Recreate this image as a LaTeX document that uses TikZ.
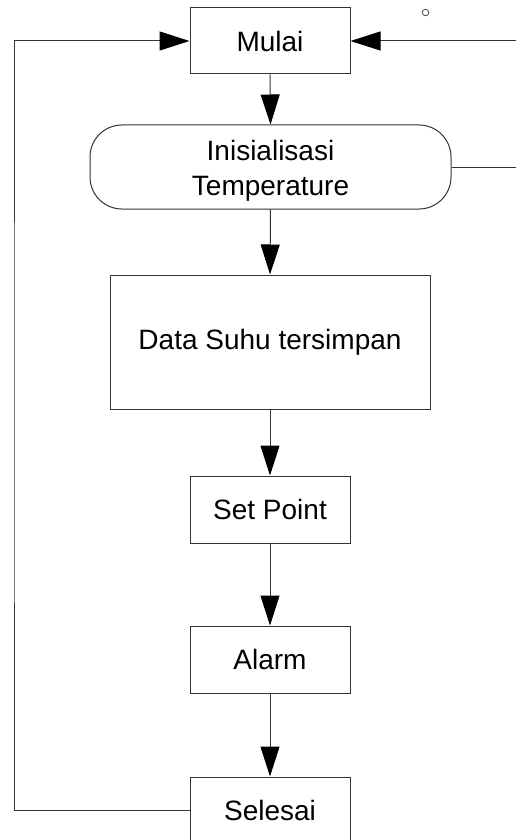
\documentclass[tikz,border=0pt]{standalone}
\usepackage{fontspec}
\setmainfont{Liberation Sans}
\usetikzlibrary{arrows.meta}
\begin{document}
\begin{tikzpicture}[x=1pt,y=-1pt,
  box/.style={draw=black!80,line width=1pt,minimum width=160pt,minimum height=67pt,inner sep=0pt,align=center,font=\fontsize{28}{35}\selectfont},
  arr/.style={draw=black!80,line width=1pt,-{Triangle[length=30pt,width=19pt,fill=black,color=black]}},
  ln/.style={draw=black!80,line width=1pt}]
\useasboundingbox (0,0) rectangle (516,840);
\clip (0,0) rectangle (516,840);
\node[box,minimum height=66pt] (mulai) at (270,41) {Mulai};
\node[box,minimum width=361pt,minimum height=84pt,rounded corners=32pt] (init) at (270.5,167) {};
\node[font=\fontsize{28}{35}\selectfont,align=center,inner sep=0pt] (inittext) at (270.5,170.5) {Inisialisasi\\Temperature};
\node[box,minimum width=320pt,minimum height=134pt] (data) at (270,342) {Data Suhu tersimpan};
\node[box] (sp) at (270,509.5) {Set Point};
\node[box] (alarm) at (270,659.5) {Alarm};
\node[box] (selesai) at (270,810.5) {Selesai};
\coordinate (rtop) at (516,41);
\coordinate (rmid) at (516,167);
\coordinate (lx) at (14,400);
\draw[arr] (mulai.south) -- (init.north);
\draw[arr] (init.south) -- (data.north);
\draw[arr] (data.south) -- (sp.north);
\draw[arr] (sp.south) -- (alarm.north);
\draw[arr] (alarm.south) -- (selesai.north);
\draw[arr] (rtop) -- (mulai.east);
\draw[ln] (init.east) -- (rmid);
\draw[arr] (selesai.west) -| (lx) |- (mulai.west);
\node[draw=black!80,line width=0.7pt,circle,minimum size=6.5pt,inner sep=0pt] (dot) at (425.5,12.5) {};
\end{tikzpicture}
\end{document}
